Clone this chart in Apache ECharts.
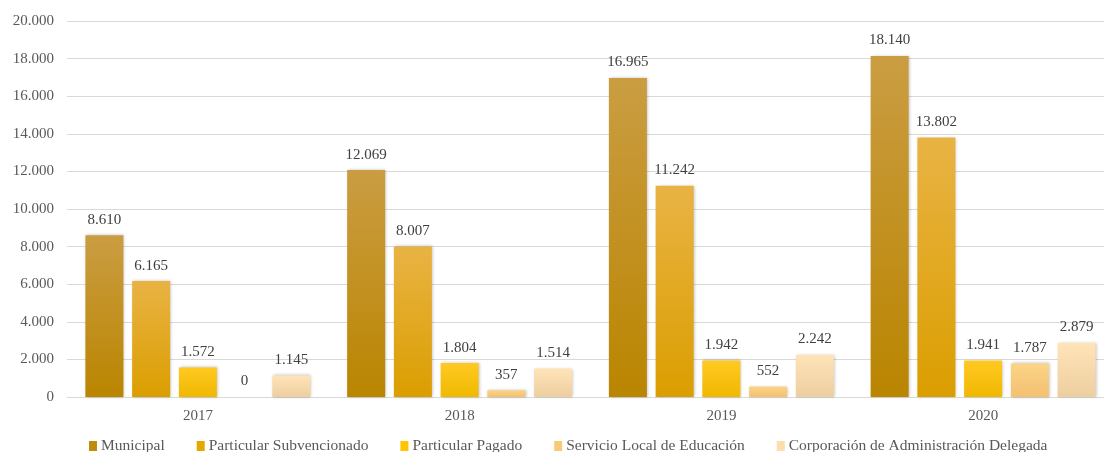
<!DOCTYPE html>
<html><head><meta charset="utf-8">
<script src="https://cdn.jsdelivr.net/npm/echarts@6/dist/echarts.min.js"></script>
<style>html,body{margin:0;padding:0;background:#fff;overflow:hidden;width:1104px;height:452px}#c{width:1124px;height:452px}</style>
</head><body><div id="c"></div>
<script>
const categories = ['2017','2018','2019','2020'];
const seriesNames = ['Municipal','Particular Subvencionado','Particular Pagado','Servicio Local de Educación','Corporación de Administración Delegada'];
const municipal = [8610, 12069, 16965, 18140];
const subvencionado = [6165, 8007, 11242, 13802];
const pagado = [1572, 1804, 1942, 1941];
const servicioLocal = [0, 357, 552, 1787];
const corporacion = [1145, 1514, 2242, 2879];
const yTicks = [0, 2000, 4000, 6000, 8000, 10000, 12000, 14000, 16000, 18000, 20000];

const allData = [municipal, subvencionado, pagado, servicioLocal, corporacion];
const grads = [
  ['#CA9D42', '#BA8500'],
  ['#E9B344', '#DB9E00'],
  ['#FFC923', '#F0B800'],
  ['#FCD387', '#F3C170'],
  ['#FFE4B8', '#EDCEA0']
];
const legendColors = ['#BF8C10', '#E5A800', '#FFC500', '#F8CB7A', '#FDDDAE'];
const fmt = v => v.toLocaleString('de-DE');
const font = '"Liberation Serif", "DejaVu Serif", serif';

const chart = echarts.init(document.getElementById('c'));
chart.setOption({
  animation: false,
  textStyle: { fontFamily: font },
  grid: { left: 67, right: 10, top: 21, bottom: 55, containLabel: false },
  legend: {
    bottom: -7, left: 84,
    itemWidth: 8, itemHeight: 10, itemGap: 32,
    icon: 'rect',
    textStyle: { fontFamily: font, fontSize: 15.5, color: '#595959', padding: [0,0,0,-1] },
    data: seriesNames.map((n, i) => ({ name: n, itemStyle: { color: legendColors[i] } }))
  },
  xAxis: {
    type: 'category', data: categories,
    axisLine: { lineStyle: { color: '#d9d9d9' } },
    axisTick: { show: false },
    axisLabel: { fontFamily: font, fontSize: 15, color: '#595959', margin: 12 }
  },
  yAxis: {
    type: 'value', min: 0, max: 20000, interval: 2000,
    axisLabel: { fontFamily: font, fontSize: 15, color: '#595959', margin: 13, formatter: v => fmt(v) },
    splitLine: { lineStyle: { color: '#d9d9d9' } },
    axisLine: { show: false }, axisTick: { show: false }
  },
  series: allData.map((d, i) => ({
    name: seriesNames[i], type: 'bar', data: d,
    barWidth: 38, barGap: '23%',
    itemStyle: {
      color: new echarts.graphic.LinearGradient(0, 0, 0, 1, [
        { offset: 0, color: grads[i][0] }, { offset: 1, color: grads[i][1] }
      ]),
      shadowBlur: 3, shadowColor: 'rgba(0,0,0,0.25)', shadowOffsetX: 1, shadowOffsetY: 0
    },
    label: {
      show: true, position: 'top', distance: 8,
      fontFamily: font, fontSize: 15, color: '#404040',
      formatter: p => fmt(p.value)
    }
  }))
});
</script></body></html>
